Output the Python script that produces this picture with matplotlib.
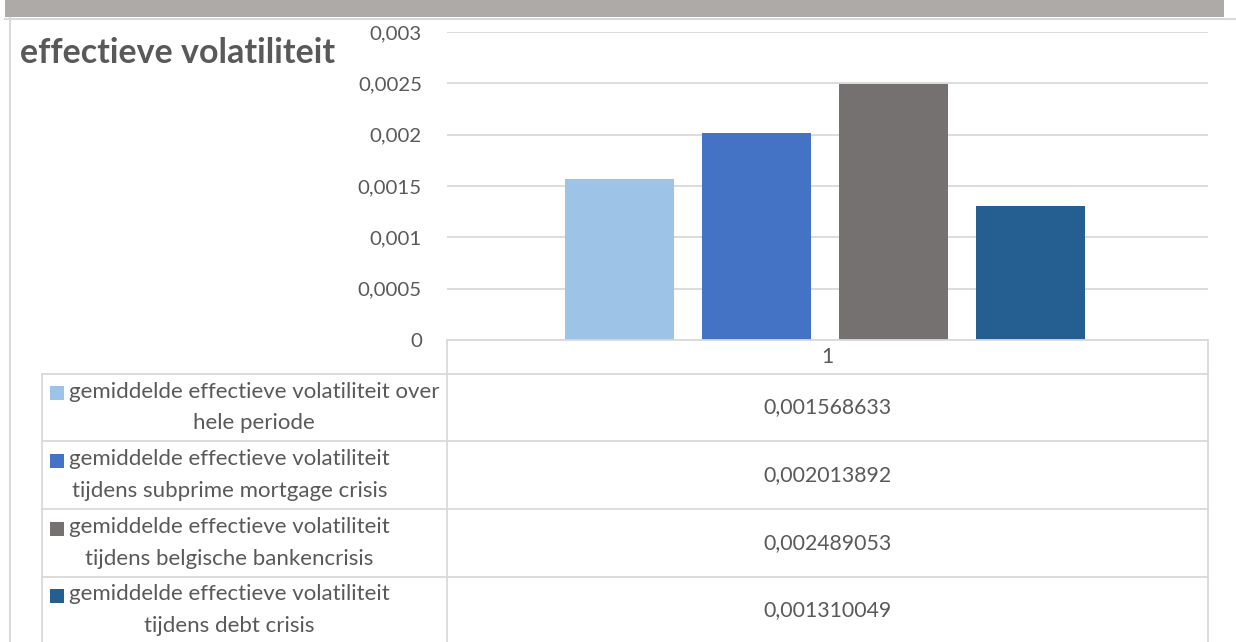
import matplotlib.pyplot as plt
from matplotlib.lines import Line2D
from matplotlib.patches import Rectangle
from matplotlib.ticker import FuncFormatter

plt.rcParams.update({
    'font.family': ['Lato', 'DejaVu Sans'],
    'text.color': '#595959',
})

# data
series = ['gemiddelde effectieve volatiliteit over\nhele periode',
          'gemiddelde effectieve volatiliteit\ntijdens subprime mortgage crisis',
          'gemiddelde effectieve volatiliteit\ntijdens belgische bankencrisis',
          'gemiddelde effectieve volatiliteit\ntijdens debt crisis']
values = [0.001568633, 0.002013892, 0.002489053, 0.001310049]
colors = ['#9DC3E6', '#4472C4', '#767171', '#255E91']
category = '1'
yticks = [0, 0.0005, 0.001, 0.0015, 0.002, 0.0025, 0.003]

W, H = 1236, 642
fig = plt.figure(figsize=(W / 100, H / 100), dpi=100)


def fx(x):
    return x / W


def fy(y):
    return 1 - y / H


def hline(y, x0, x1, color='#D9D9D9', lw=1.3):
    fig.add_artist(Line2D([fx(x0), fx(x1)], [fy(y), fy(y)], color=color, lw=lw))


def vline(x, y0, y1, color='#D9D9D9', lw=1.3):
    fig.add_artist(Line2D([fx(x), fx(x)], [fy(y0), fy(y1)], color=color, lw=lw))


# header band and outer frame
fig.add_artist(Rectangle((fx(5), fy(17)), fx(1224) - fx(5), fy(0) - fy(17),
                         color='#AEAAA8', lw=0))
hline(18.5, 5, 1236, lw=1.5)
vline(10, 18, 642, lw=1.5)

# plot area
x0, x1, ytop, ybot = 447, 1208, 32, 340
ax = fig.add_axes([fx(x0), fy(ybot), fx(x1) - fx(x0), fy(ytop) - fy(ybot)])
n = len(values)
bw = 0.143
step = 0.18
for i, (v, c) in enumerate(zip(values, colors)):
    ax.bar((i - (n - 1) / 2) * step - 0.003, v, width=bw, color=c, zorder=3)
ax.set_xlim(-0.5, 0.5)
ax.set_ylim(0, 0.003)
ax.set_yticks(yticks)
ax.yaxis.set_major_formatter(FuncFormatter(lambda v, p: ('%g' % v).replace('.', ',')))
ax.tick_params(axis='y', length=0, pad=18, labelsize=14.7, labelcolor='#595959')
ax.set_xticks([])
ax.grid(axis='y', color='#D9D9D9', lw=1.3, zorder=0)
for s in ax.spines.values():
    s.set_visible(False)
ax.patch.set_alpha(0)

fig.text(fx(20), fy(53), 'effectieve volatiliteit', fontsize=24.5, fontweight='bold',
         ha='left', va='center', color='#595959')

# data table below the plot
rows = [374, 441, 509, 577, 645]
vline(x0, ybot, H)
vline(x1, ybot, H)
vline(42, rows[0], H)
hline(ybot, x0, x1)
for r in rows[:-1]:
    hline(r, 42, x1)

fig.text(fx((x0 + x1) / 2), fy((ybot + rows[0]) / 2), category, fontsize=15.3,
         ha='center', va='center')
for i, (lab, v, c) in enumerate(zip(series, values, colors)):
    top, bot = rows[i], rows[i + 1]
    mid = (top + bot) / 2 if i < 3 else 610
    fig.add_artist(Rectangle((fx(50), fy(mid - 7.5)), fx(14), fy(0) - fy(14),
                             color=c, lw=0))
    fig.text(fx(69), fy(mid), lab, fontsize=16, ha='left',
             va='center', multialignment='center', linespacing=1.7)
    fig.text(fx((x0 + x1) / 2), fy(mid), ('%.9f' % v).replace('.', ','),
             fontsize=15.3, ha='center', va='center')

fig.savefig('out.png', dpi=100)
